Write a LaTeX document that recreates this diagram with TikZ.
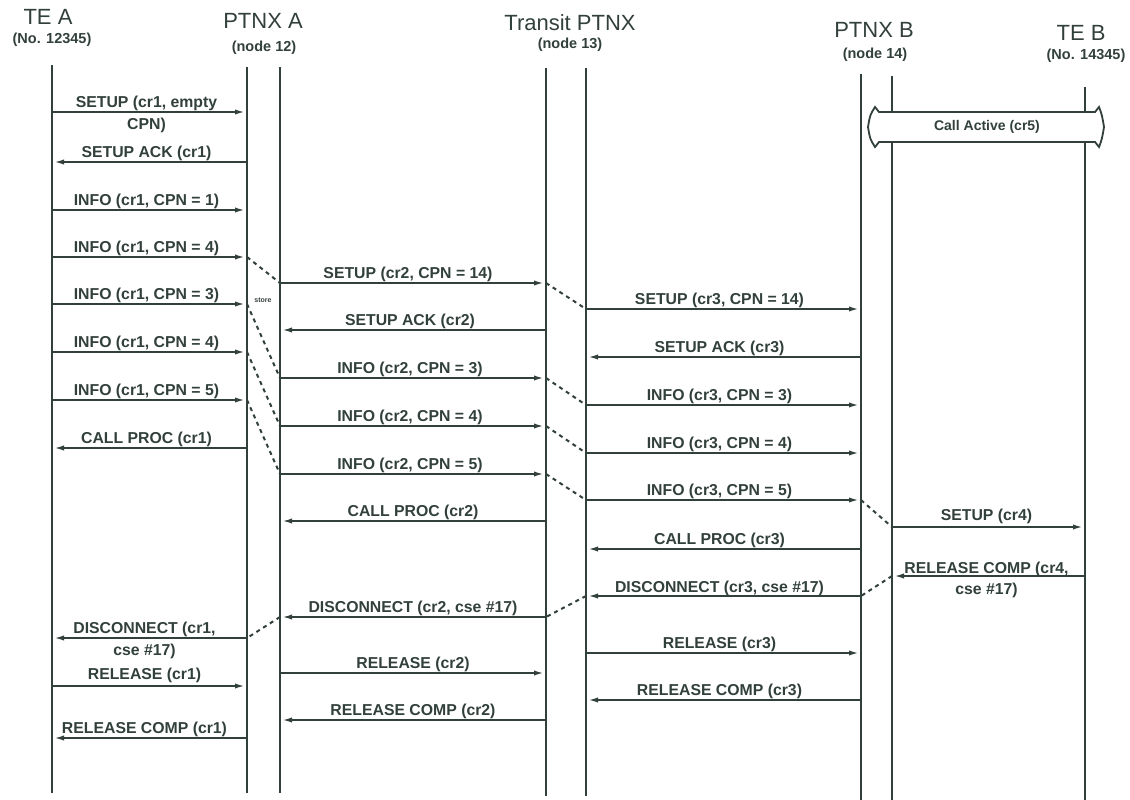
\documentclass[tikz,border=0pt]{standalone}
\usepackage{fontspec}
\setmainfont{Liberation Sans}
\usetikzlibrary{arrows.meta}
\definecolor{ink}{RGB}{50,64,60}
\newcommand\sqmsg[7]{%
  \coordinate (#1a) at (#2,#4);
  \coordinate (#1b) at (#3,#4);
  \draw[msgline] (#1a) -- node[lbl,anchor=base,xshift=#6,yshift=#7] (#1l) {#5} (#1b);}
\begin{document}
\begin{tikzpicture}[x=1pt,y=-1pt,
  life/.style={draw=ink,line width=2.8pt},
  msgline/.style={draw=ink,line width=2.2pt,-{Latex[length=12pt,width=5pt]}},
  relay/.style={draw=ink,line width=2pt,dash pattern=on 4pt off 4pt},
  lbl/.style={text=ink,font=\fontsize{15.8}{17}\selectfont\bfseries,inner sep=0pt},
  ttl/.style={text=ink,font=\fontsize{22}{24}\selectfont,inner sep=0pt},
  subttl/.style={text=ink,font=\fontsize{14.5}{16}\selectfont\bfseries,inner sep=0pt}]
\useasboundingbox (0,0) rectangle (1130,800);

% titles
\node[ttl] (tTEA) at (48,17) {TE A};
\node[subttl] (sTEA) at (52,40) {(No. 12345)};
\node[ttl] (tPA) at (263,21) {PTNX A};
\node[subttl] (sPA) at (264,48) {(node 12)};
\node[ttl] (tTR) at (570,23) {Transit PTNX};
\node[subttl] (sTR) at (570,45) {(node 13)};
\node[ttl] (tPB) at (874,30) {PTNX B};
\node[subttl] (sPB) at (875,55) {(node 14)};
\node[ttl] (tTEB) at (1081,33) {TE B};
\node[subttl] (sTEB) at (1086,56) {(No. 14345)};

% lifelines
\coordinate (TEAt) at (52,65);   \coordinate (TEAb) at (52,793);
\coordinate (PALt) at (247,67);  \coordinate (PALb) at (247,793);
\coordinate (PARt) at (280,67);  \coordinate (PARb) at (280,793);
\coordinate (TRLt) at (546,68);  \coordinate (TRLb) at (546,796);
\coordinate (TRRt) at (586,68);  \coordinate (TRRb) at (586,796);
\coordinate (PBLt) at (861,74);  \coordinate (PBLb) at (861,800);
\coordinate (PBRt) at (892,76);  \coordinate (PBRb) at (892,800);
\coordinate (TEBt) at (1085,87); \coordinate (TEBb) at (1085,800);
\foreach \l in {TEA,PAL,PAR,TRL,TRR,PBL,PBR,TEB}{\draw[life] (\l t) -- (\l b);}

% call active
\draw[draw=ink,line width=1.8pt,fill=white] (879,112) -- (1095,112) -- (1099,107)
  .. controls (1102,115) .. (1104,127) .. controls (1102,139) .. (1099,147)
  -- (1095,142) -- (879,142) -- (875,147) .. controls (870,139) .. (868,127)
  .. controls (870,115) .. (875,107) -- cycle;
\node[lbl,font=\fontsize{14}{16}\selectfont\bfseries] (callactive) at (987,127) {Call Active (cr5)};

% TE A <-> PTNX A
\coordinate (m1a) at (52,112); \coordinate (m1b) at (247,112);
\draw[msgline] (m1a) -- node[lbl,anchor=base,xshift=-3pt,yshift=5pt] (m1l) {SETUP (cr1, empty}
  node[lbl,anchor=base,xshift=-3pt,yshift=-17pt] (m1m) {CPN)} (m1b);
\sqmsg{m2}{247}{52}{162}{SETUP ACK (cr1)}{-3pt}{5pt}
\sqmsg{m3}{52}{247}{210}{INFO (cr1, CPN = 1)}{-3pt}{5pt}
\sqmsg{m4}{52}{247}{257}{INFO (cr1, CPN = 4)}{-3pt}{5pt}
\sqmsg{m5}{52}{247}{304}{INFO (cr1, CPN = 3)}{-3pt}{5pt}
\sqmsg{m6}{52}{247}{352}{INFO (cr1, CPN = 4)}{-3pt}{5pt}
\sqmsg{m7}{52}{247}{400}{INFO (cr1, CPN = 5)}{-3pt}{5pt}
\sqmsg{m8}{247}{52}{448}{CALL PROC (cr1)}{-3pt}{5pt}
\coordinate (m9a) at (247,638); \coordinate (m9b) at (52,638);
\draw[msgline] (m9a) -- node[lbl,anchor=base,xshift=-5pt,yshift=5pt] (m9l) {DISCONNECT (cr1,}
  node[lbl,anchor=base,xshift=-5pt,yshift=-17pt] (m9m) {cse \#17)} (m9b);
\sqmsg{m10}{52}{247}{686}{RELEASE (cr1)}{-5pt}{7pt}
\sqmsg{m11}{247}{52}{738}{RELEASE COMP (cr1)}{-5pt}{5pt}

% PTNX A <-> Transit
\sqmsg{n1}{280}{546}{283}{SETUP (cr2, CPN = 14)}{-5pt}{5pt}
\sqmsg{n2}{546}{280}{330}{SETUP ACK (cr2)}{-3pt}{5pt}
\sqmsg{n3}{280}{546}{378}{INFO (cr2, CPN = 3)}{-3pt}{5pt}
\sqmsg{n4}{280}{546}{426}{INFO (cr2, CPN = 4)}{-3pt}{5pt}
\sqmsg{n5}{280}{546}{474}{INFO (cr2, CPN = 5)}{-3pt}{5pt}
\sqmsg{n6}{546}{280}{521}{CALL PROC (cr2)}{0pt}{5pt}
\sqmsg{n7}{546}{280}{617}{DISCONNECT (cr2, cse \#17)}{0pt}{5pt}
\sqmsg{n8}{280}{546}{673}{RELEASE (cr2)}{0pt}{5pt}
\sqmsg{n9}{546}{280}{720}{RELEASE COMP (cr2)}{0pt}{5pt}

% Transit <-> PTNX B
\sqmsg{r1}{586}{861}{309}{SETUP (cr3, CPN = 14)}{-4pt}{5pt}
\sqmsg{r2}{861}{586}{357}{SETUP ACK (cr3)}{-4pt}{5pt}
\sqmsg{r3}{586}{861}{405}{INFO (cr3, CPN = 3)}{-4pt}{5pt}
\sqmsg{r4}{586}{861}{453}{INFO (cr3, CPN = 4)}{-4pt}{5pt}
\sqmsg{r5}{586}{861}{500}{INFO (cr3, CPN = 5)}{-4pt}{5pt}
\sqmsg{r6}{861}{586}{549}{CALL PROC (cr3)}{-4pt}{5pt}
\sqmsg{r7}{861}{586}{596}{DISCONNECT (cr3, cse \#17)}{-4pt}{4pt}
\sqmsg{r8}{586}{861}{653}{RELEASE (cr3)}{-4pt}{5pt}
\sqmsg{r9}{861}{586}{700}{RELEASE COMP (cr3)}{-4pt}{5pt}

% PTNX B <-> TE B
\sqmsg{s1}{892}{1085}{527}{SETUP (cr4)}{-2pt}{7pt}
\coordinate (s2a) at (1085,576); \coordinate (s2b) at (892,576);
\draw[msgline] (s2a) -- node[lbl,anchor=base,xshift=-2pt,yshift=3pt] (s2l) {RELEASE COMP (cr4,}
  node[lbl,anchor=base,xshift=-2pt,yshift=-18pt] (s2m) {cse \#17)} (s2b);

% relays
\draw[relay] (m4b) -- (n1a);
\draw[relay] (m5b) -- (n3a);
\draw[relay] (m6b) -- (n4a);
\draw[relay] (m7b) -- (n5a);
\draw[relay] (n1b) -- (r1a);
\draw[relay] (n3b) -- (r3a);
\draw[relay] (n4b) -- (r4a);
\draw[relay] (n5b) -- (r5a);
\draw[relay] (r5b) -- (s1a);
\draw[relay] (s2b) -- (r7a);
\draw[relay] (r7b) -- (n7a);
\draw[relay] (n7b) -- (m9a);

\node[text=ink,font=\fontsize{7}{7}\selectfont\bfseries,inner sep=0pt] (store) at (263,300) {store};
\end{tikzpicture}
\end{document}
